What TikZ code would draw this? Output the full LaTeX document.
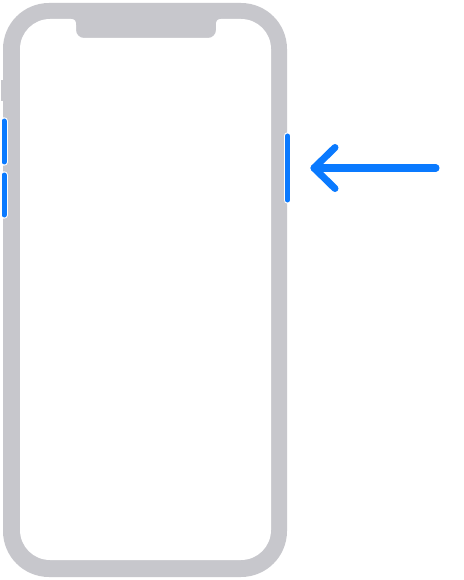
\documentclass[tikz,border=0pt]{standalone}
\definecolor{framegray}{HTML}{C7C7CC}
\definecolor{iosblue}{HTML}{0A7AFF}
\tikzset{
  btnwhite/.style={line width=7.5pt, white, line cap=round},
  btnblue/.style={line width=5pt, iosblue, line cap=round},
  arrowline/.style={line width=7pt, iosblue, line cap=round, line join=round}
}
\begin{document}
\begin{tikzpicture}[x=1pt,y=-1pt]
\useasboundingbox[fill=white] (0,0) rectangle (463,580);
% silent switch
\fill[framegray] (0.8,80) rectangle (5,101);
% outer frame
\fill[framegray, rounded corners=46pt] (3,3) rectangle (287,577);
% inner screen with notch
\fill[white] (20,49) arc[start angle=180, end angle=270, radius=30]
  -- (71,19) .. controls (75,19) and (76,21) .. (76,25)
  -- (76,30) arc[start angle=180, end angle=90, radius=8]
  -- (208,38) arc[start angle=90, end angle=0, radius=8]
  -- (216,25) .. controls (216,21) and (217,19) .. (221,19)
  -- (241,19) arc[start angle=270, end angle=360, radius=30]
  -- (271,530) arc[start angle=0, end angle=90, radius=30]
  -- (50,560) arc[start angle=90, end angle=180, radius=30]
  -- cycle;
% buttons
\coordinate (v1a) at (4,121); \coordinate (v1b) at (4,162);
\coordinate (v2a) at (4,175); \coordinate (v2b) at (4,215);
\coordinate (sa) at (287.5,136); \coordinate (sb) at (287.5,200);
\draw[btnwhite] (v1a) -- (v1b);
\draw[btnwhite] (v2a) -- (v2b);
\draw[btnwhite] (sa) -- (sb);
\draw[btnblue] (v1a) -- (v1b);
\draw[btnblue] (v2a) -- (v2b);
\draw[btnblue] (sa) -- (sb);
% arrow
\coordinate (tip) at (314,168);
\coordinate (tail) at (436,168);
\coordinate (up) at (335,147.5);
\coordinate (dn) at (335,188.5);
\draw[arrowline] (tail) -- (tip);
\draw[arrowline] (up) -- (tip) -- (dn);
\end{tikzpicture}
\end{document}
